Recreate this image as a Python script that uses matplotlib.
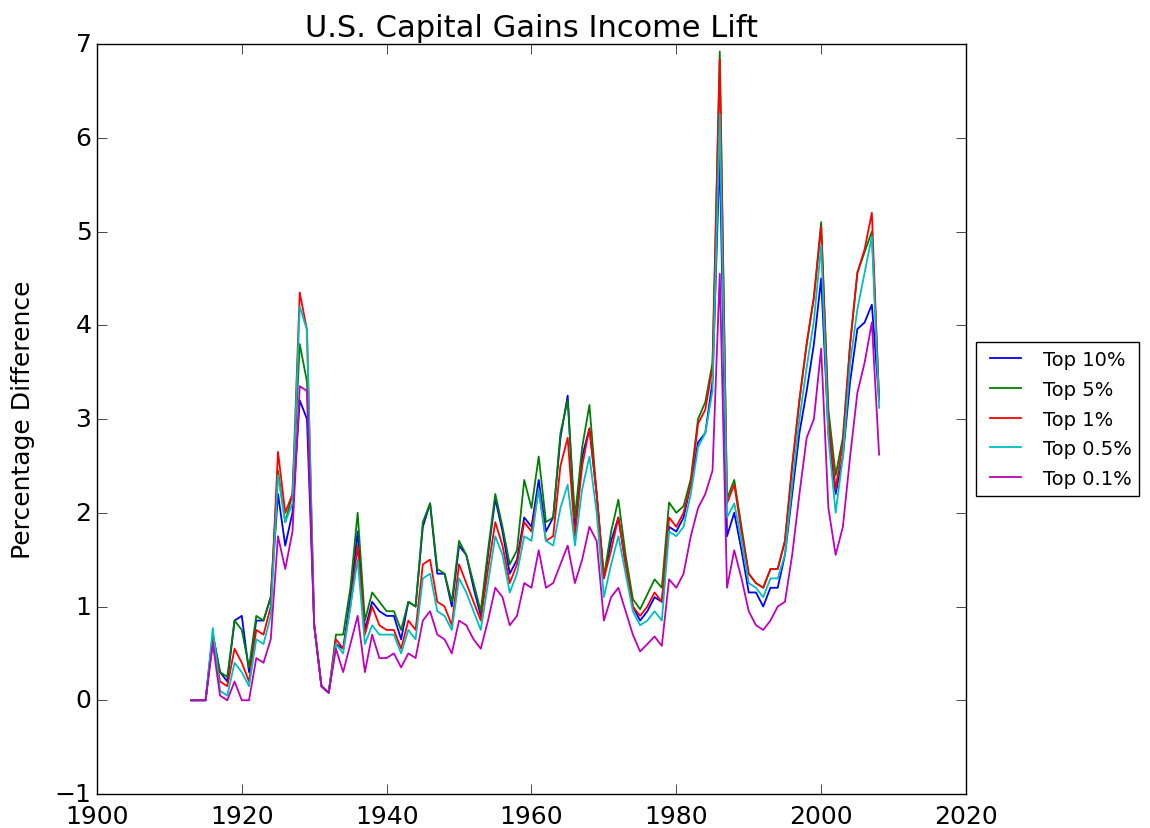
"""
U.S. capital gains income lift by income group
"""
import numpy as np
import matplotlib
matplotlib.use("Agg")
import matplotlib.pyplot as plt

years = np.arange(1913, 2009)

top10 = [0, 0, 0, 0.70, 0.30, 0.20, 0.85, 0.90, 0.30, 0.85,
         0.85, 1.10, 2.20, 1.65, 2.00, 3.20, 3.00, 0.80, 0.15, 0.08,
         0.60, 0.55, 1.10, 1.80, 0.75, 1.05, 0.95, 0.90, 0.90, 0.65,
         1.05, 1.00, 1.85, 2.10, 1.35, 1.35, 1.00, 1.65, 1.55, 1.20,
         0.90, 1.55, 2.15, 1.80, 1.35, 1.50, 1.95, 1.85, 2.35, 1.80,
         1.95, 2.80, 3.25, 1.80, 2.60, 2.90, 2.20, 1.30, 1.70, 1.95,
         1.45, 1.00, 0.85, 0.95, 1.10, 1.05, 1.85, 1.80, 1.95, 2.30,
         2.75, 2.85, 3.40, 5.85, 1.75, 2.00, 1.60, 1.15, 1.15, 1.00,
         1.20, 1.20, 1.55, 2.20, 2.85, 3.30, 3.80, 4.50, 2.85, 2.20,
         2.60, 3.40, 3.96, 4.03, 4.22, 3.20]

top5 = [0, 0, 0, 0.70, 0.30, 0.25, 0.85, 0.75, 0.35, 0.90,
        0.85, 1.10, 2.45, 1.90, 2.20, 3.80, 3.40, 0.80, 0.15, 0.08,
        0.70, 0.70, 1.20, 2.00, 0.85, 1.15, 1.05, 0.95, 0.95, 0.75,
        1.05, 1.00, 1.90, 2.10, 1.40, 1.35, 1.05, 1.70, 1.55, 1.25,
        0.95, 1.60, 2.20, 1.85, 1.45, 1.60, 2.35, 2.05, 2.60, 1.90,
        1.95, 2.85, 3.20, 1.95, 2.70, 3.15, 2.20, 1.32, 1.80, 2.14,
        1.55, 1.08, 0.97, 1.13, 1.29, 1.20, 2.11, 2.00, 2.07, 2.36,
        3.00, 3.18, 3.60, 6.92, 2.15, 2.35, 1.85, 1.35, 1.25, 1.20,
        1.40, 1.40, 1.70, 2.50, 3.20, 3.80, 4.30, 5.10, 3.10, 2.40,
        2.80, 3.80, 4.56, 4.78, 5.00, 3.20]

top1 = [0, 0, 0, 0.65, 0.20, 0.15, 0.55, 0.40, 0.20, 0.75,
        0.70, 1.00, 2.65, 2.00, 2.20, 4.35, 3.95, 0.80, 0.15, 0.08,
        0.65, 0.55, 1.00, 1.65, 0.70, 1.00, 0.80, 0.75, 0.75, 0.55,
        0.85, 0.75, 1.45, 1.50, 1.05, 1.00, 0.80, 1.45, 1.25, 1.05,
        0.85, 1.40, 1.90, 1.65, 1.25, 1.45, 1.90, 1.80, 2.25, 1.70,
        1.75, 2.50, 2.80, 1.75, 2.50, 2.90, 2.20, 1.30, 1.60, 1.95,
        1.45, 1.00, 0.90, 1.00, 1.15, 1.05, 1.95, 1.85, 2.00, 2.30,
        2.95, 3.10, 3.55, 6.84, 2.10, 2.30, 1.80, 1.35, 1.25, 1.20,
        1.40, 1.40, 1.70, 2.50, 3.20, 3.80, 4.30, 5.05, 3.00, 2.25,
        2.75, 3.80, 4.56, 4.81, 5.20, 3.20]

top05 = [0, 0, 0, 0.77, 0.10, 0.05, 0.40, 0.30, 0.15, 0.65,
         0.60, 0.90, 2.40, 1.90, 2.10, 4.20, 3.95, 0.80, 0.15, 0.08,
         0.60, 0.50, 1.00, 1.50, 0.60, 0.80, 0.70, 0.70, 0.70, 0.50,
         0.75, 0.65, 1.30, 1.35, 0.95, 0.90, 0.75, 1.30, 1.15, 0.95,
         0.75, 1.25, 1.75, 1.55, 1.15, 1.35, 1.75, 1.70, 2.25, 1.70,
         1.65, 2.05, 2.30, 1.65, 2.25, 2.60, 2.00, 1.10, 1.45, 1.75,
         1.35, 0.95, 0.80, 0.85, 0.95, 0.85, 1.80, 1.75, 1.85, 2.20,
         2.70, 2.85, 3.30, 6.25, 1.95, 2.10, 1.70, 1.25, 1.20, 1.10,
         1.30, 1.30, 1.55, 2.30, 3.00, 3.55, 4.05, 4.85, 2.80, 2.00,
         2.60, 3.60, 4.17, 4.56, 4.95, 3.12]

top01 = [0, 0, 0, 0.60, 0.05, 0.00, 0.20, 0.00, 0.00, 0.45,
         0.40, 0.65, 1.75, 1.40, 1.80, 3.35, 3.30, 0.80, 0.15, 0.08,
         0.55, 0.30, 0.60, 0.90, 0.30, 0.70, 0.45, 0.45, 0.50, 0.35,
         0.50, 0.45, 0.85, 0.95, 0.70, 0.65, 0.50, 0.85, 0.80, 0.65,
         0.55, 0.85, 1.20, 1.10, 0.80, 0.90, 1.25, 1.20, 1.60, 1.20,
         1.25, 1.45, 1.65, 1.25, 1.50, 1.85, 1.70, 0.85, 1.10, 1.20,
         0.95, 0.70, 0.52, 0.60, 0.68, 0.58, 1.29, 1.20, 1.35, 1.75,
         2.05, 2.20, 2.45, 4.55, 1.20, 1.60, 1.30, 0.95, 0.80, 0.75,
         0.85, 1.00, 1.05, 1.55, 2.20, 2.80, 3.00, 3.75, 2.05, 1.55,
         1.85, 2.60, 3.28, 3.60, 4.03, 2.62]

labels = ["Top 10%", "Top 5%", "Top 1%", "Top 0.5%", "Top 0.1%"]
colors = ["b", "g", "r", "c", "m"]

plt.style.use("classic")
fig = plt.figure(figsize=(11.5, 8.29), dpi=100, facecolor="white")
ax = fig.add_axes([0.0843, 0.041, 0.7557, 0.9047])

for series, lab, col in zip([top10, top5, top1, top05, top01], labels, colors):
    ax.plot(years, series, color=col, label=lab, linewidth=1.3)

ax.set_xlim(1900, 2020)
ax.set_ylim(-1, 7)
ax.set_xticks(range(1900, 2021, 20))
ax.set_yticks(range(-1, 8))
ax.tick_params(labelsize=18, length=7)
ax.tick_params(axis="x", pad=7)
ax.set_title("U.S. Capital Gains Income Lift", fontsize=22, pad=6)
ax.set_ylabel("Percentage Difference", fontsize=18, labelpad=14)
ax.legend(loc="center left", bbox_to_anchor=(1.012, 0.5), borderaxespad=0,
          fontsize=14, handlelength=2.2, labelspacing=0.55)

fig.savefig("out.png", dpi=100, facecolor="white")
